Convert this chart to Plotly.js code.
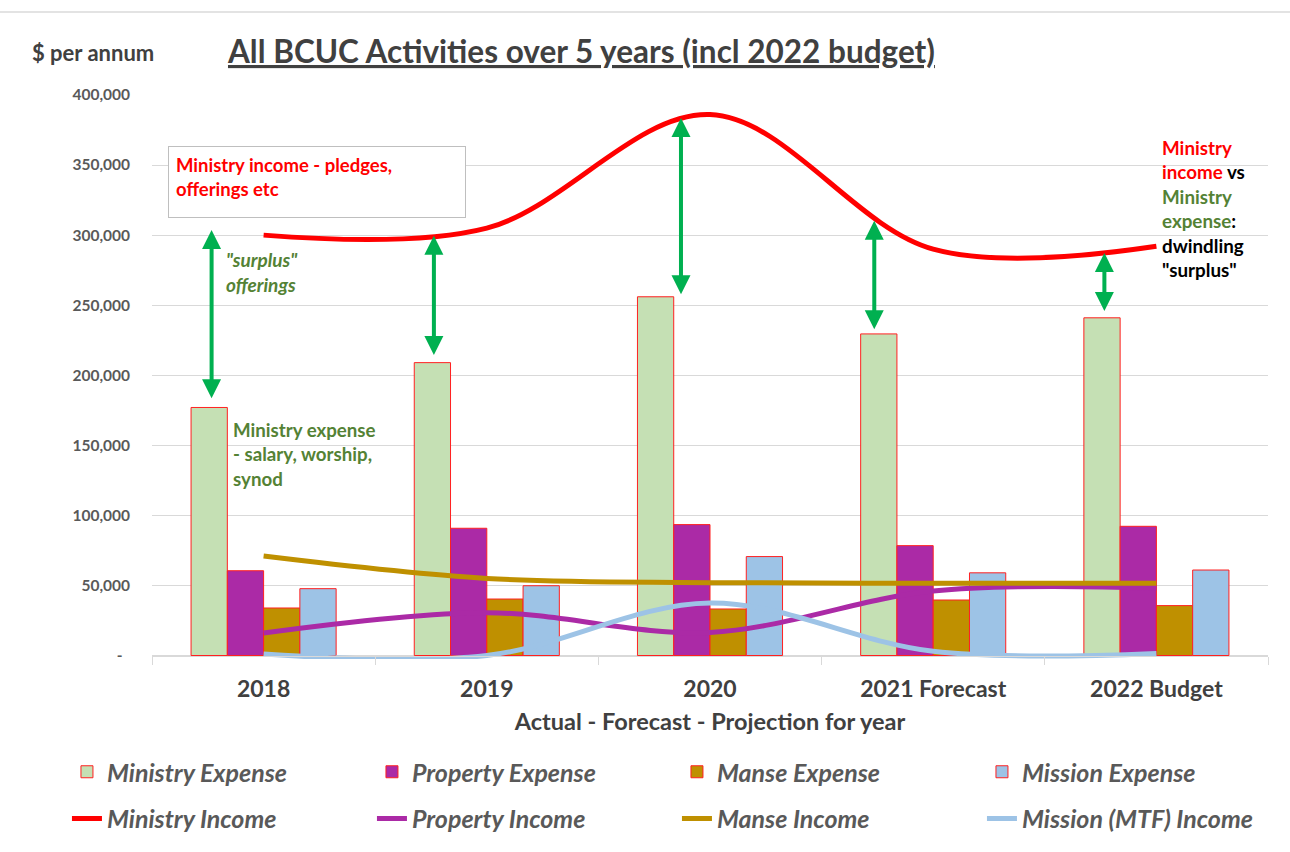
<!DOCTYPE html>
<html><head><meta charset="utf-8">
<script src="https://cdn.plot.ly/plotly-3.0.1.min.js"></script>
<style>html,body{margin:0;padding:0;background:#fff}#chart{width:1290px;height:852px}</style>
</head><body><div id="chart"></div>
<script>
const years = ['2018', '2019', '2020', '2021 Forecast', '2022 Budget'];
const ministryExpense = [177000, 209000, 256000, 229500, 241000];
const propertyExpense = [60500, 90800, 93400, 78400, 92200];
const manseExpense = [33900, 40300, 33200, 39600, 35600];
const missionExpense = [47700, 49800, 70600, 59000, 61000];
const ministryIncome = [300000, 305000, 386000, 290000, 292000];
const propertyIncome = [16000, 30500, 16500, 46000, 48000];
const manseIncome = [71000, 55000, 52000, 51500, 51500];
const missionIncome = [1000, 0, 37500, 3000, 1500];
const yTickVals = [0, 50000, 100000, 150000, 200000, 250000, 300000, 350000, 400000];
const yTickText = ['-\u00a0\u00a0', '50,000', '100,000', '150,000', '200,000', '250,000', '300,000', '350,000', '400,000'];
// "surplus" double arrows (category index position, top and bottom values)
const arrowX = [-0.233, 0.763, 1.87, 2.736, 3.767];
const arrowTop = [303700, 299500, 383600, 310200, 287300];
const arrowBottom = [182500, 213400, 256700, 231700, 244800];

const FONT = 'Lato, "Open Sans", sans-serif';
const barLine = {color: '#ff2020', width: 1};

const traces = [
  {type: 'bar', name: 'Ministry Expense', x: years, y: ministryExpense, marker: {color: '#c5e0b4', line: barLine}},
  {type: 'bar', name: 'Property Expense', x: years, y: propertyExpense, marker: {color: '#ab2aa6', line: barLine}},
  {type: 'bar', name: 'Manse Expense', x: years, y: manseExpense, marker: {color: '#bf9000', line: barLine}},
  {type: 'bar', name: 'Mission Expense', x: years, y: missionExpense, marker: {color: '#9dc3e6', line: barLine}},
  {type: 'scatter', mode: 'lines', name: 'Ministry Income', x: years, y: ministryIncome, legend: 'legend2', line: {color: '#ff0000', width: 5, shape: 'spline', smoothing: 1}},
  {type: 'scatter', mode: 'lines', name: 'Property Income', x: years, y: propertyIncome, legend: 'legend2', line: {color: '#ab2aa6', width: 5, shape: 'spline', smoothing: 1}},
  {type: 'scatter', mode: 'lines', name: 'Manse Income', x: years, y: manseIncome, legend: 'legend2', line: {color: '#bf9000', width: 5, shape: 'spline', smoothing: 1}},
  {type: 'scatter', mode: 'lines', name: 'Mission (MTF) Income', x: years, y: missionIncome, legend: 'legend2', line: {color: '#9dc3e6', width: 5, shape: 'spline', smoothing: 1}}
];

const annotations = [];
for (let i = 0; i < arrowX.length; i++) {
  annotations.push({
    xref: 'x', yref: 'y', axref: 'x', ayref: 'y',
    x: arrowX[i], y: arrowTop[i], ax: arrowX[i], ay: arrowBottom[i],
    text: '', showarrow: true, arrowside: 'end+start', arrowhead: 2, arrowsize: 0.95,
    arrowwidth: 4, arrowcolor: '#00b050', standoff: 0, startstandoff: 0
  });
}
const green = '#548235';
annotations.push(
  {xref: 'paper', yref: 'paper', x: -0.1093, y: 1.0745, xanchor: 'left', yanchor: 'middle', showarrow: false,
   text: '$ per annum', font: {family: FONT, size: 22, weight: 'bold', color: '#404040'}},
  {xref: 'paper', yref: 'paper', x: 0.0143, y: 0.9096, xanchor: 'left', yanchor: 'top', showarrow: false,
   text: 'Ministry income - pledges,<br>offerings etc', align: 'left', valign: 'top',
   width: 282, height: 56, borderpad: 7, bordercolor: '#bfbfbf', borderwidth: 1, bgcolor: '#ffffff',
   font: {family: FONT, size: 18.5, weight: 'bold', color: '#ff0000'}},
  {xref: 'paper', yref: 'paper', x: 0.0645, y: 0.7325, xanchor: 'left', yanchor: 'top', showarrow: false,
   text: '"surplus"<br>offerings', align: 'left',
   font: {family: FONT, size: 19, weight: 'bold', style: 'italic', color: green}},
  {xref: 'paper', yref: 'paper', x: 0.0708, y: 0.4285, xanchor: 'left', yanchor: 'top', showarrow: false,
   text: 'Ministry expense<br>- salary, worship,<br>synod', align: 'left',
   font: {family: FONT, size: 18.7, weight: 'bold', color: green}},
  {xref: 'paper', yref: 'paper', x: 0.9032, y: 0.9305, xanchor: 'left', yanchor: 'top', showarrow: false,
   text: '<span style="color:#ff0000">Ministry</span><br><span style="color:#ff0000">income</span> vs<br>' +
         '<span style="color:' + green + '">Ministry</span><br><span style="color:' + green + '">expense</span>:<br>dwindling<br>"surplus"',
   align: 'left', font: {family: FONT, size: 18.8, weight: 'bold', color: '#000000'}}
);

const legendBase = {
  orientation: 'h', xanchor: 'left', yanchor: 'top', entrywidth: 260, entrywidthmode: 'pixels',
  itemwidth: 30, bgcolor: 'rgba(0,0,0,0)', traceorder: 'normal',
  font: {family: FONT, size: 25, weight: 'bold', style: 'italic', color: '#595959'}
};

const layout = {
  width: 1290, height: 852,
  margin: {l: 152, r: 22, t: 95, b: 193, pad: 0, autoexpand: false},
  paper_bgcolor: '#ffffff', plot_bgcolor: '#ffffff',
  font: {family: FONT, color: '#404040'},
  title: {text: '<u>All BCUC Activities over 5 years (incl 2022 budget)</u>', xref: 'paper', x: 0.0681, xanchor: 'left',
          yref: 'container', y: 0.939, yanchor: 'middle',
          font: {family: FONT, size: 31.5, weight: 'bold', color: '#404040'}},
  barmode: 'group', bargap: 0.35, bargroupgap: 0,
  showlegend: true,
  legend: Object.assign({}, legendBase, {x: -0.0762, y: -0.1596}),
  legend2: Object.assign({}, legendBase, {x: -0.0762, y: -0.2426}),
  xaxis: {
    type: 'category', anchor: 'free', position: 0.0062,
    showline: true, linecolor: '#d9d9d9', linewidth: 1,
    ticks: 'outside', tickson: 'boundaries', ticklen: 8, tickcolor: '#d9d9d9',
    showgrid: false, zeroline: false, ticklabelstandoff: 13,
    tickfont: {family: FONT, size: 23, weight: 'bold', color: '#404040'},
    title: {text: 'Actual - Forecast - Projection for year', standoff: 12,
            font: {family: FONT, size: 23.5, weight: 'bold', color: '#404040'}}
  },
  yaxis: {
    range: [-2500, 400000], tickvals: yTickVals, ticktext: yTickText,
    showgrid: true, gridcolor: '#d9d9d9', gridwidth: 1, zeroline: false, showline: false,
    ticks: '', ticklabelstandoff: 21,
    tickfont: {family: FONT, size: 15.5, weight: 'bold', color: '#595959'}
  },
  annotations: annotations,
  shapes: [
    {type: 'line', xref: 'paper', yref: 'paper', x0: -0.1362, x1: 1.0197, y0: 1.147, y1: 1.147,
     line: {color: '#e3e3e3', width: 2}}
  ]
};

Plotly.newPlot('chart', traces, layout, {displayModeBar: false, staticPlot: true});
</script>
</body></html>
